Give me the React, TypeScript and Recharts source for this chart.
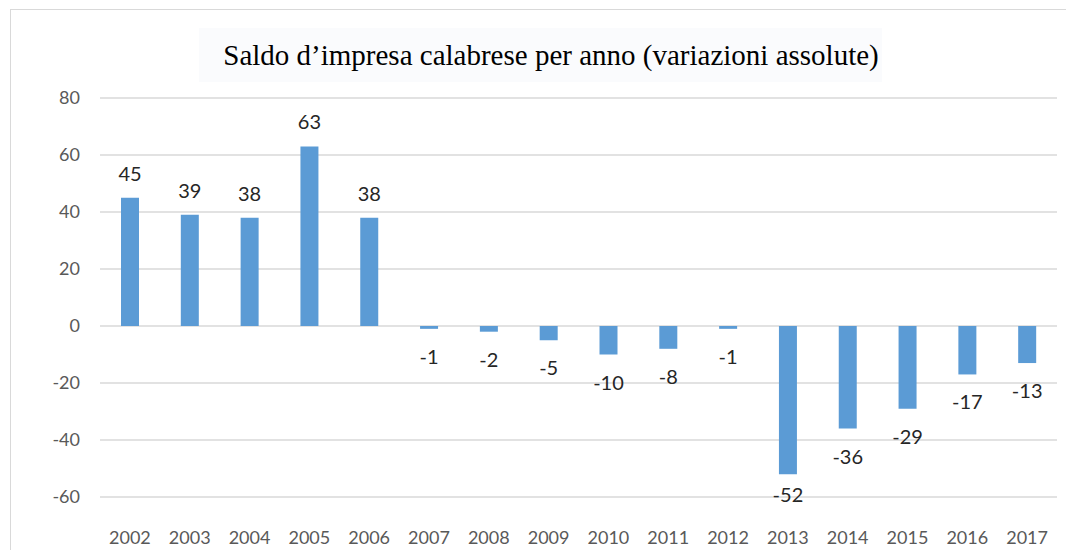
import React from "react";
import { BarChart, Bar, XAxis, YAxis, CartesianGrid, LabelList } from "recharts";

const years = ["2002", "2003", "2004", "2005", "2006", "2007", "2008", "2009", "2010", "2011", "2012", "2013", "2014", "2015", "2016", "2017"];
const saldo = [45, 39, 38, 63, 38, -1, -2, -5, -10, -8, -1, -52, -36, -29, -17, -13];
const yTicks = [-60, -40, -20, 0, 20, 40, 60, 80];

const data = years.map((anno, i) => ({ anno, saldo: saldo[i] }));

const PLOT_BOTTOM = 497;

// labels sit above positive bars, below negative ones (kept inside the plot like Excel does)
const BarLabel = (props: any) => {
  const { x, y, width, height, value } = props;
  const top = Math.min(y, y + height);
  const bottom = Math.max(y, y + height);
  const cx = x + width / 2;
  const ty = value >= 0 ? top - 17 : Math.min(bottom + 35, PLOT_BOTTOM + 5);
  return (
    <text x={cx} y={ty} textAnchor="middle" fill="#262626" fontSize={20} fontFamily="Lato, 'Liberation Sans', sans-serif">
      {value}
    </text>
  );
};

const App: React.FC = () => {
  return (
    <div style={{ position: "absolute", left: 0, top: 0, width: 1066, height: 550, background: "#fff", overflow: "hidden" }}>
      {/* chart frame: only top and left edges fall inside the picture */}
      <div
        style={{
          position: "absolute",
          left: 10,
          top: 9,
          width: 1066,
          height: 560,
          borderTop: "1px solid #d9d9d9",
          borderLeft: "1px solid #d9d9d9",
        }}
      />
      <div
        style={{
          position: "absolute",
          left: 199,
          top: 28,
          width: 683,
          height: 54,
          background: "#fafbfd",
        }}
      />
      <div
        style={{
          position: "absolute",
          left: 0,
          top: 40,
          width: 1102,
          textAlign: "center",
          fontFamily: "'Liberation Serif', 'DejaVu Serif', serif",
          fontSize: 29,
          lineHeight: "30px",
          color: "#000",
        }}
      >
        Saldo d’impresa calabrese per anno (variazioni assolute)
      </div>
      <BarChart width={1066} height={550} data={data} margin={{ top: 98, right: 9, bottom: 0, left: 0 }} style={{ position: "absolute", left: 0, top: 0 }}>
        <CartesianGrid vertical={false} stroke="#d9d9d9" strokeWidth={1.3} />
        <XAxis
          dataKey="anno"
          axisLine={false}
          tickLine={false}
          tickSize={0}
          tickMargin={34}
          height={53}
          interval={0}
          tick={{ fill: "#595959", fontSize: 18, fontFamily: "Lato, 'Liberation Sans', sans-serif" }}
        />
        <YAxis
          domain={[-60, 80]}
          ticks={yTicks}
          axisLine={false}
          tickLine={false}
          tickSize={0}
          tickMargin={20}
          width={100}
          tick={{ fill: "#595959", fontSize: 18, fontFamily: "Lato, 'Liberation Sans', sans-serif" }}
        />
        <Bar dataKey="saldo" fill="#5b9bd5" barSize={18} isAnimationActive={false}>
          <LabelList dataKey="saldo" content={<BarLabel />} />
        </Bar>
      </BarChart>
    </div>
  );
};

export default App;
